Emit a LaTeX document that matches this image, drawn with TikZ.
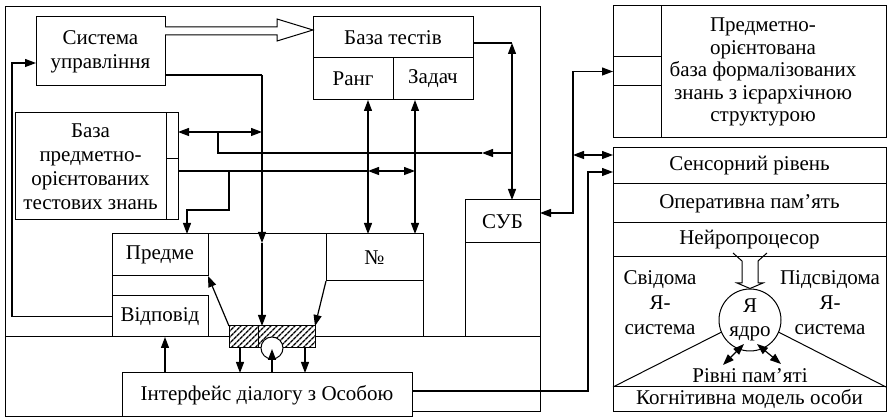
\documentclass[tikz,border=0pt]{standalone}
\usepackage{fontspec}
\setmainfont{Liberation Serif}
\usetikzlibrary{arrows.meta,patterns.meta,calc}
\begin{document}
\begin{tikzpicture}[x=1pt,y=-1pt,
  font=\fontsize{21}{24}\selectfont,
  box/.style={draw, line width=1pt, inner sep=0pt, outer sep=0pt, anchor=north west, align=center},
  lbl/.style={inner sep=0pt, align=center},
  conn/.style={line width=1.2pt},
  arr/.style={conn, -{Triangle[length=11pt,width=8pt]}},
  darr/.style={conn, {Triangle[length=11pt,width=8pt]}-{Triangle[length=11pt,width=8pt]}},
  frame/.style={line width=1pt},
  hollow/.style={line width=1pt, fill=white}
]
\useasboundingbox (0,0) rectangle (887,419);
% frames
\draw[frame] (5,7) rectangle (540,337);
\draw[frame] (5,337) -- (5,417) -- (122,417);
\draw[frame] (412,412) -- (540,412) -- (540,337);
% left nodes
\node[box, minimum width=129pt, minimum height=69pt] (sys) at (36,17) {Система\\управління};
\node[box, minimum width=160pt, minimum height=41pt] (bt) at (313,17) {База тестів};
\node[box, minimum width=80pt, minimum height=42pt] (rang) at (313,58) {Ранг};
\node[box, minimum width=80pt, minimum height=42pt] (zad) at (393,58) {Задач};
\node[box, minimum width=151pt, minimum height=107pt] (bpz) at (15,113) {База\\предметно-\\орієнтованих\\тестових знань};
\node[box, minimum width=12pt, minimum height=46pt] (bpzA) at (166,113) {};
\node[box, minimum width=12pt, minimum height=61pt] (bpzB) at (166,159) {};
\node[box, minimum width=311pt, minimum height=103pt] (big) at (112,234) {};
\node[box, minimum width=96pt, minimum height=42pt] (pred) at (112,234) {Предме};
\node[box, minimum width=96pt, minimum height=41pt] (vidp) at (112,296) {Відповід};
\node[box, minimum width=97pt, minimum height=47pt] (num) at (326,234) {№};
\node[box, minimum width=75pt, minimum height=43pt] (sub) at (465,200) {СУБ};
\node[box, minimum width=75pt, minimum height=94pt] (subL) at (465,243) {};
\node[box, minimum width=290pt, minimum height=44pt, fill=white] (intf) at (122,373) {Інтерфейс діалогу з Особою};
% hatched bar
\node[box, minimum width=86pt, minimum height=22pt, preaction={fill=white},
  pattern={Lines[angle=45,distance=4pt,line width=1.4pt]}] (hatch) at (229,326) {};
\draw[frame] (258,326) -- (258,348);
\node[draw, line width=1pt, circle, fill=white, minimum size=22pt, inner sep=0pt] (ring) at (272,348) {};
% hollow arrow sys -> bt
\draw[hollow] (sys.east |- 0,27) -- (277,27) -- (277,19) -- (bt.west |- 0,30) -- (277,41) -- (277,35) -- (sys.east |- 0,35);
% connectors left
\draw[arr] (vidp.west) -- (12,316.5) -- (12,63) -- ([yshift=-11.5pt]sys.west);
\draw[conn] ([yshift=11pt]sys.south east) -- (262,75);
\draw[arr] (262,75) -- (262,243);
\draw[arr] (262,243) -- (262,326);
\draw[darr] ([yshift=4pt]bpzA.east) -- (262,132);
\draw[conn] ([yshift=-5.5pt]bt.east) -- (512,43);
\draw[darr] (512,43) -- (sub.north -| 512,0);
\draw[arr] (512,153) -- (482,153);
\draw[conn] (482,153) -- (218,153) -- (218,132);
\draw[conn] ([yshift=18.5pt]bpzB.east) -- (368,171);
\draw[darr] (368,171) -- (415,171);
\draw[arr] (229,171) -- (229,210) -- (187,210) -- (big.north -| 187,0);
\draw[darr] ([xshift=15pt]rang.south) -- ([xshift=15pt]rang.south |- big.north);
\draw[darr] ([xshift=-18pt]zad.south) -- ([xshift=-18pt]zad.south |- big.north);
\draw[arr] (hatch.north west) -- (pred.south east);
\draw[arr] (num.south west) -- (hatch.north east);
\draw[arr] ([xshift=11pt]hatch.south west) -- ([xshift=11pt]hatch.south west |- intf.north);
\draw[arr] ([xshift=-10pt]hatch.south east) -- ([xshift=-10pt]hatch.south east |- intf.north);
\draw[arr] (ring |- intf.north) -- ([yshift=-1pt]ring.center);
\draw[arr] ([xshift=5pt]vidp.south |- intf.north) -- ([xshift=5pt]vidp.south);
% right top box
\node[box, minimum width=48pt, minimum height=51pt] (kbA) at (613,6) {};
\node[box, minimum width=48pt, minimum height=29pt] (kbB) at (613,57) {};
\node[box, minimum width=48pt, minimum height=52pt] (kbC) at (613,86) {};
\node[box, minimum width=225pt, minimum height=132pt] (kb) at (661,6) {};
\node[lbl, font=\fontsize{21}{22.5}\selectfont] (kbl) at (763,72) {Предметно-\\орієнтована\\база формалізованих\\знань з ієрархічною\\структурою};
% right lower box
\node[box, minimum width=273pt, minimum height=36pt] (sens) at (613,148) {Сенсорний рівень};
\node[box, minimum width=273pt, minimum height=39pt] (oper) at (613,184) {Оперативна пам’ять};
\node[box, minimum width=273pt, minimum height=34pt] (neuro) at (613,223) {Нейропроцесор};
\node[box, minimum width=273pt, minimum height=130pt] (mid) at (613,257) {};
\node[box, minimum width=273pt, minimum height=25pt] (kogn) at (613,387) {Когнітивна модель особи};
\node[lbl, font=\fontsize{21}{25}\selectfont] (svid) at (660,303) {Свідома\\Я-\\система};
\node[lbl, font=\fontsize{21}{25}\selectfont] (pids) at (830,303) {Підсвідома\\Я-\\система};
\node[draw, line width=1pt, circle, minimum size=62pt, inner sep=0pt, align=center, font=\fontsize{21}{24}\selectfont] (core) at (750,320) {Я\\ядро};
\node[lbl] (rivni) at (750,376) {Рівні пам’яті};
\draw[frame] (core.203) -- (kogn.north west);
\draw[frame] (core.-23) -- (kogn.north east);
\coordinate (cl) at (744,344);
\coordinate (cr) at (757,344);
\draw[darr] (cl) -- (723,365);
\draw[darr] (cr) -- (781,364);
\draw[frame] (733,253) -- (742,261) -- (742,283) -- (737,283) -- (core.north) -- (763,283) -- (758,283) -- (758,261) -- (767,253);
% right connectors
\draw[darr] ([yshift=8.5pt]sub.east) -- (573,213) -- (573,71.5) -- (kbB.west);
\draw[darr] (573,155) -- ([yshift=11pt]sens.west);
\draw[arr] ([yshift=4pt]intf.east) -- (588,391) -- (588,172) -- ([yshift=-6pt]sens.west);
\end{tikzpicture}
\end{document}
